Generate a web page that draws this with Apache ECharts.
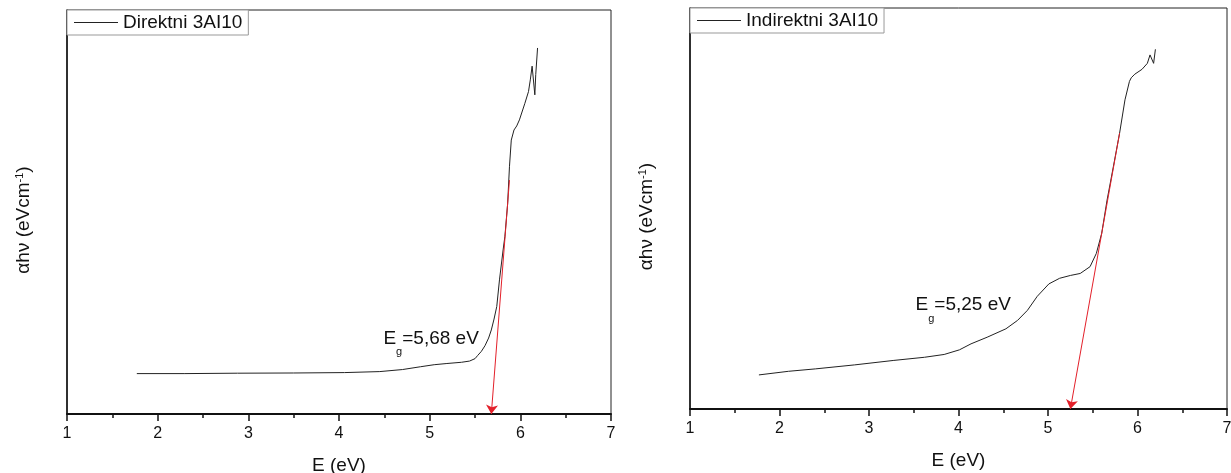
<!DOCTYPE html>
<html>
<head>
<meta charset="utf-8">
<script src="https://cdn.jsdelivr.net/npm/echarts@6/dist/echarts.min.js"></script>
<style>
html,body{margin:0;padding:0;background:#fff;}
#c{width:1231px;height:473px;}
</style>
</head>
<body>
<div id="c"></div>
<script>
// ---- data ----
const seriesNames = ['Direktni 3AI10', 'Indirektni 3AI10'];
const gapLabels = ['5,68 eV', '5,25 eV'];
const xTickValues = [1, 2, 3, 4, 5, 6, 7];

const directE = [1.77, 2.30, 2.88, 3.50, 4.06, 4.45, 4.70, 4.90, 5.05, 5.19, 5.35, 5.44, 5.50, 5.53, 5.57, 5.61, 5.65, 5.68, 5.71, 5.74, 5.77, 5.81, 5.83, 5.86, 5.88, 5.90, 5.93, 5.96, 5.99, 6.05, 6.09, 6.11, 6.13, 6.16, 6.17, 6.19];
const directY = [10.0, 10.0, 10.1, 10.15, 10.25, 10.5, 11.0, 11.7, 12.2, 12.5, 12.8, 13.1, 13.7, 14.5, 15.5, 16.9, 18.8, 20.8, 23.5, 26.6, 33.2, 40.6, 44.0, 52.0, 61.2, 67.8, 70.3, 71.3, 72.8, 76.9, 79.8, 82.7, 86.1, 79.0, 84.0, 90.6];

const indirectE = [1.77, 2.10, 2.40, 2.84, 3.27, 3.62, 3.84, 4.01, 4.14, 4.32, 4.53, 4.66, 4.77, 4.88, 5.01, 5.13, 5.25, 5.36, 5.47, 5.54, 5.60, 5.66, 5.73, 5.80, 5.86, 5.91, 5.93, 5.97, 6.05, 6.11, 6.14, 6.18, 6.20];
const indirectY = [8.5, 9.4, 10.0, 11.0, 12.1, 12.9, 13.6, 14.75, 16.25, 17.9, 20.0, 22.1, 24.6, 28.1, 31.2, 32.6, 33.3, 33.8, 35.5, 38.8, 43.8, 52.1, 60.4, 68.8, 77.1, 81.7, 82.6, 83.5, 84.7, 86.2, 88.3, 86.2, 89.7];

// tangent (extrapolation) lines: start point on curve -> band-gap on the axis
const directTangentE = [5.88, 5.68];
const directTangentY = [57.9, 0];
const indirectTangentE = [5.80, 5.25];
const indirectTangentY = [68.8, 0];

// ---- build ----
const FONT = 'Liberation Sans';
const zip = (a, b) => a.map((v, i) => [v, b[i]]);

function xAxisCfg(gi) {
  return {
    gridIndex: gi, type: 'value', min: 1, max: 7, interval: 1,
    name: 'E (eV)', nameLocation: 'middle', nameGap: 42,
    nameTextStyle: {fontFamily: FONT, fontSize: 19, color: '#111'},
    axisLine: {show: true, onZero: false, lineStyle: {color: '#111', width: 2}},
    axisTick: {show: true, length: 7, lineStyle: {color: '#111', width: 1.5}},
    minorTick: {show: true, splitNumber: 2, length: 4, lineStyle: {color: '#111', width: 1.5}},
    splitLine: {show: false},
    axisLabel: {fontFamily: FONT, fontSize: 16, color: '#111', margin: 12,
      formatter: v => xTickValues.includes(v) ? String(v) : ''}
  };
}
function yAxisCfg(gi) {
  return {
    gridIndex: gi, type: 'value', min: 0, max: 100,
    name: '{m|αhν (eVcm}{p|-1}{m|)}', nameLocation: 'middle', nameGap: 31, nameRotate: 90,
    nameTextStyle: {
      fontFamily: FONT, color: '#111', padding: [0, 16, 0, 0],
      rich: {
        m: {fontFamily: FONT, fontSize: 19, color: '#111', lineHeight: 22, verticalAlign: 'top'},
        p: {fontFamily: FONT, fontSize: 11, color: '#111', lineHeight: 11, verticalAlign: 'top'}
      }
    },
    axisLine: {show: true, onZero: false, lineStyle: {color: '#111', width: 1.5}},
    axisTick: {show: false}, axisLabel: {show: false}, splitLine: {show: false}
  };
}
function legendCfg(name, left, top) {
  return {
    data: [{name: name, icon: 'rect'}], left: left, top: top, padding: [3, 6, 3, 7],
    itemWidth: 44, itemHeight: 1, itemGap: 0,
    itemStyle: {color: '#222', borderWidth: 0},
    borderColor: '#999', borderWidth: 1, backgroundColor: '#fff',
    selectedMode: false,
    textStyle: {fontFamily: FONT, fontSize: 19, color: '#111'}
  };
}
const richLabel = {
  m: {fontFamily: FONT, fontSize: 19, color: '#111', lineHeight: 19, verticalAlign: 'top'},
  s: {fontFamily: FONT, fontSize: 11, color: '#111', lineHeight: 11, verticalAlign: 'top', padding: [18, 0, 0, 0]}
};
function seriesCfg(gi, name, xs, ys, tx, ty, gapText, labelAt) {
  return {
    type: 'line', name: name, xAxisIndex: gi, yAxisIndex: gi,
    data: zip(xs, ys), symbol: 'none', showSymbol: false, animation: false,
    lineStyle: {color: '#222', width: 1},
    itemStyle: {color: '#222'},
    markLine: {
      silent: true, animation: false, symbol: ['none', 'arrow'], symbolSize: 9,
      lineStyle: {color: '#e3202a', width: 1, type: 'solid'},
      label: {show: false},
      data: [[{coord: [tx[0], ty[0]]}, {coord: [tx[1], ty[1]]}]]
    },
    markPoint: {
      silent: true, animation: false, symbol: 'circle', symbolSize: 0,
      itemStyle: {color: 'transparent'},
      label: {show: true, position: 'right', distance: 0, color: '#111',
        formatter: () => '{m|E}{s|g}{m|=' + gapText + '}', rich: richLabel},
      data: [{coord: labelAt}]
    }
  };
}

const chart = echarts.init(document.getElementById('c'), null, {renderer: 'canvas'});
chart.setOption({
  animation: false,
  backgroundColor: '#fff',
  grid: [
    {left: 67, top: 10, width: 544, height: 404, outerBoundsMode: 'none', containLabel: false,
     show: true, borderColor: '#222', borderWidth: 1, backgroundColor: 'transparent'},
    {left: 690, top: 8, width: 537, height: 401, outerBoundsMode: 'none', containLabel: false,
     show: true, borderColor: '#222', borderWidth: 1, backgroundColor: 'transparent'}
  ],
  xAxis: [xAxisCfg(0), xAxisCfg(1)],
  yAxis: [yAxisCfg(0), yAxisCfg(1)],
  legend: [legendCfg(seriesNames[0], 67, 10), legendCfg(seriesNames[1], 690, 8)],
  series: [
    seriesCfg(0, seriesNames[0], directE, directY, directTangentE, directTangentY, gapLabels[0], [4.49, 18.7]),
    seriesCfg(1, seriesNames[1], indirectE, indirectY, indirectTangentE, indirectTangentY, gapLabels[1], [3.52, 25.9])
  ]
});
</script>
</body>
</html>
